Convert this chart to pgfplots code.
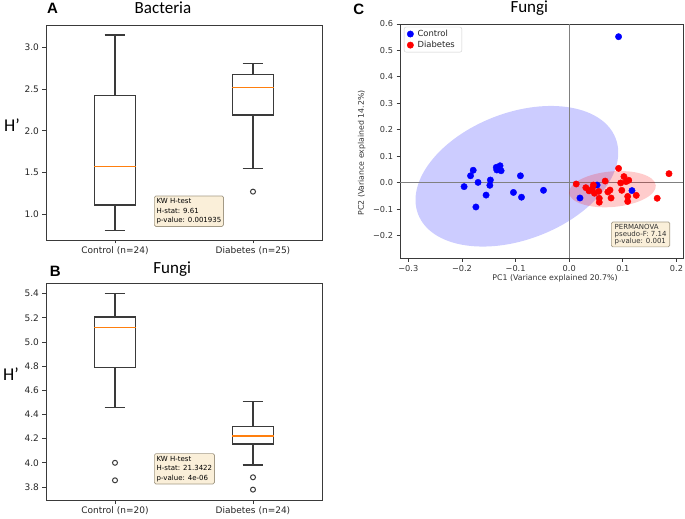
\documentclass[border=0pt]{standalone}
\usepackage{fontspec}
\setmainfont{DejaVu Sans}
\newfontfamily\calib{Carlito}
\newfontfamily\arialb{Liberation Sans}
\usepackage{pgfplots}
\pgfplotsset{compat=1.18}
\usepgfplotslibrary{statistics}
\definecolor{medorange}{HTML}{FF7F0E}
\definecolor{wheatbox}{HTML}{FAEFD9}
\definecolor{wheatedge}{HTML}{A39A86}
\definecolor{framegray}{HTML}{3A3A3A}
\definecolor{ptblue}{RGB}{0,0,255}
\definecolor{ptred}{RGB}{255,0,0}
\pgfplotsset{
  boxpanel/.style={
    scale only axis, width=276pt, xmin=0.5, xmax=2.5, xtick={1,2},
    tick align=outside, tick pos=left, major tick length=3.5pt,
    axis line style={framegray, line width=0.9pt},
    every tick/.style={framegray, line width=0.9pt},
    ticklabel style={font=\fontsize{9}{10}\selectfont, text=black!85},
    boxplot/draw direction=y,
    boxplot/box extend=0.3, boxplot/whisker extend=0.15,
    boxplot/every box/.style={draw=framegray, line width=1.1pt},
    boxplot/every whisker/.style={draw=framegray, line width=1.1pt},
    boxplot/every median/.style={draw=medorange, line width=1.6pt},
  },
  bx/.style={framegray, line width=1.1pt},
  outl/.style={mark=o, mark size=2.5pt, mark options={draw=framegray, line width=1pt}},
}
\begin{document}
\begin{tikzpicture}
\useasboundingbox (0pt,0pt) rectangle (685pt,519pt);

% ---------------- Panel A ----------------
\begin{axis}[boxpanel, at={(46pt,279pt)}, anchor=south west, height=215pt,
  ymin=0.69, ymax=3.27, ytick={1,1.5,2,2.5,3}, yticklabels={1.0,1.5,2.0,2.5,3.0},
  xticklabels={Control (n=24),Diabetes (n=25)}]
\addplot[bx, boxplot prepared={draw position=1, lower whisker=0.80, lower quartile=1.11,
  median=1.57, upper quartile=2.42, upper whisker=3.15}] coordinates {};
\addplot[bx, outl, boxplot prepared={draw position=2, lower whisker=1.55, lower quartile=2.19,
  median=2.52, upper quartile=2.68, upper whisker=2.81}] coordinates {(0,1.27)};
\end{axis}

% ---------------- Panel B ----------------
\begin{axis}[boxpanel, at={(46pt,19pt)}, anchor=south west, height=216.7pt,
  ymin=3.692, ymax=5.486, ytick={3.8,4.0,4.2,4.4,4.6,4.8,5.0,5.2,5.4},
  yticklabels={3.8,4.0,4.2,4.4,4.6,4.8,5.0,5.2,5.4},
  xticklabels={Control (n=20),Diabetes (n=24)}]
\addplot[bx, outl, boxplot prepared={draw position=1, lower whisker=4.456, lower quartile=4.787,
  median=5.121, upper quartile=5.207, upper whisker=5.40}] coordinates {(0,4.00) (0,3.855)};
\addplot[bx, outl, boxplot prepared={draw position=2, lower whisker=3.982, lower quartile=4.156,
  median=4.222, upper quartile=4.302, upper whisker=4.509}] coordinates {(0,3.880) (0,3.778)};
\end{axis}

% ---------------- Panel C ----------------
\begin{axis}[at={(400pt,260.7pt)}, anchor=south west, scale only axis,
  width=283.3pt, height=234.3pt,
  xmin=-0.3155, xmax=0.2127, ymin=-0.286, ymax=0.600,
  xtick={-0.3,-0.2,-0.1,0,0.1,0.2}, xticklabels={−0.3,−0.2,−0.1,0.0,0.1,0.2},
  ytick={-0.2,-0.1,0,0.1,0.2,0.3,0.4,0.5,0.6},
  yticklabels={−0.2,−0.1,0.0,0.1,0.2,0.3,0.4,0.5,0.6},
  tick align=outside, tick pos=left, major tick length=3.5pt,
  axis line style={framegray, line width=0.9pt},
  every tick/.style={framegray, line width=0.9pt},
  ticklabel style={font=\fontsize{8.2}{9}\selectfont, text=black!80},
  legend style={at={(0.014,0.988)}, anchor=north west, draw=black!20, rounded corners=2pt,
    font=\fontsize{8.4}{9}\selectfont, inner xsep=3pt, inner ysep=1.5pt, row sep=0pt,
    nodes={inner xsep=4pt, inner ysep=1.6pt}, text=black!85,
    cells={anchor=west}},
]
\fill[ptblue, fill opacity=0.2, rotate around={21:(axis cs:-0.0976,0.0242)}]
  (axis cs:-0.0976,0.0242) ellipse [x radius=105.8pt, y radius=63.4pt];
\draw[black!50, line width=0.7pt] (axis cs:0,-0.286) -- (axis cs:0,0.6);
\draw[black!50, line width=0.7pt] (axis cs:-0.3155,0) -- (axis cs:0.2127,0);
\addplot[only marks, mark=*, mark size=3.2pt, ptblue] coordinates {
(0.092,0.552) (-0.196,-0.015) (-0.184,0.026) (-0.179,0.047) (-0.174,-0.092)
(-0.170,0.001) (-0.155,-0.047) (-0.148,-0.010) (-0.147,0.010) (-0.136,0.058)
(-0.135,0.048) (-0.129,0.064) (-0.127,0.045) (-0.104,-0.037) (-0.091,0.026)
(-0.089,-0.055) (-0.048,-0.029) (0.020,-0.058) (0.052,-0.009) (0.117,-0.030)
};
\addlegendentry{Control}
\fill[ptred, fill opacity=0.2, rotate around={5:(axis cs:0.0806,-0.0246)}]
  (axis cs:0.0806,-0.0246) ellipse [x radius=43.5pt, y radius=17.8pt];
\addplot[only marks, mark=*, mark size=3.2pt, ptred] coordinates {
(0.013,-0.005) (0.031,-0.019) (0.037,-0.031) (0.043,-0.023) (0.045,-0.009)
(0.047,-0.040) (0.055,-0.033) (0.056,-0.059) (0.056,-0.074) (0.067,0.006)
(0.072,-0.035) (0.076,-0.028) (0.078,-0.058) (0.092,0.054) (0.096,-0.001)
(0.098,-0.029) (0.102,0.023) (0.106,0.004) (0.109,-0.052) (0.109,-0.071)
(0.111,0.009) (0.125,-0.048) (0.164,-0.059) (0.186,0.034)
};
\addlegendentry{Diabetes}
\end{axis}

% ---------------- Annotation boxes ----------------
\node[draw=wheatedge, fill=wheatbox, rounded corners=1.5pt, inner sep=2.3pt, anchor=north west,
  align=left, font=\fontsize{7}{9.6}\selectfont, line width=0.7pt] at (154pt,323.3pt)
  {KW H-test\\H-stat: 9.61\\p-value: 0.001935};
\node[draw=wheatedge, fill=wheatbox, rounded corners=1.5pt, inner sep=2.3pt, anchor=north west,
  align=left, font=\fontsize{7}{9.6}\selectfont, line width=0.7pt] at (154pt,65.7pt)
  {KW H-test\\H-stat: 21.3422\\p-value: 4e-06};
\node[draw=wheatedge, fill=wheatbox, rounded corners=1.5pt, inner xsep=3.3pt, inner ysep=1.8pt, anchor=north west,
  align=left, font=\fontsize{7}{7.3}\selectfont, line width=0.7pt, text=black!80] at (611pt,297.3pt)
  {PERMANOVA\\pseudo-F: 7.14\\p-value: 0.001};

% ---------------- Titles and labels ----------------
\node[font=\arialb\bfseries\fontsize{15}{15}\selectfont, anchor=base] at (52.5pt,505pt) {A};
\node[font=\calib\fontsize{17}{17}\selectfont, anchor=base] at (163pt,505pt) {Bacteria};
\node[font=\calib\fontsize{18}{18}\selectfont, anchor=base] at (12pt,387.3pt) {H’};

\node[font=\arialb\bfseries\fontsize{15}{15}\selectfont, anchor=base] at (55.3pt,242.3pt) {B};
\node[font=\calib\fontsize{17}{17}\selectfont, anchor=base] at (172.2pt,245.7pt) {Fungi};
\node[font=\calib\fontsize{18}{18}\selectfont, anchor=base] at (11pt,138.3pt) {H’};

\node[font=\arialb\bfseries\fontsize{15}{15}\selectfont, anchor=base] at (358.7pt,504pt) {C};
\node[font=\calib\fontsize{17}{17}\selectfont, anchor=base] at (529.3pt,506.3pt) {Fungi};

\node[font=\fontsize{7.8}{9}\selectfont, text=black!80] at (555pt,240.5pt) {PC1 (Variance explained 20.7\%)};
\node[font=\fontsize{7.8}{9}\selectfont, text=black!80, rotate=90] at (361.7pt,366pt) {PC2 (Variance explained 14.2\%)};
\end{tikzpicture}
\end{document}
